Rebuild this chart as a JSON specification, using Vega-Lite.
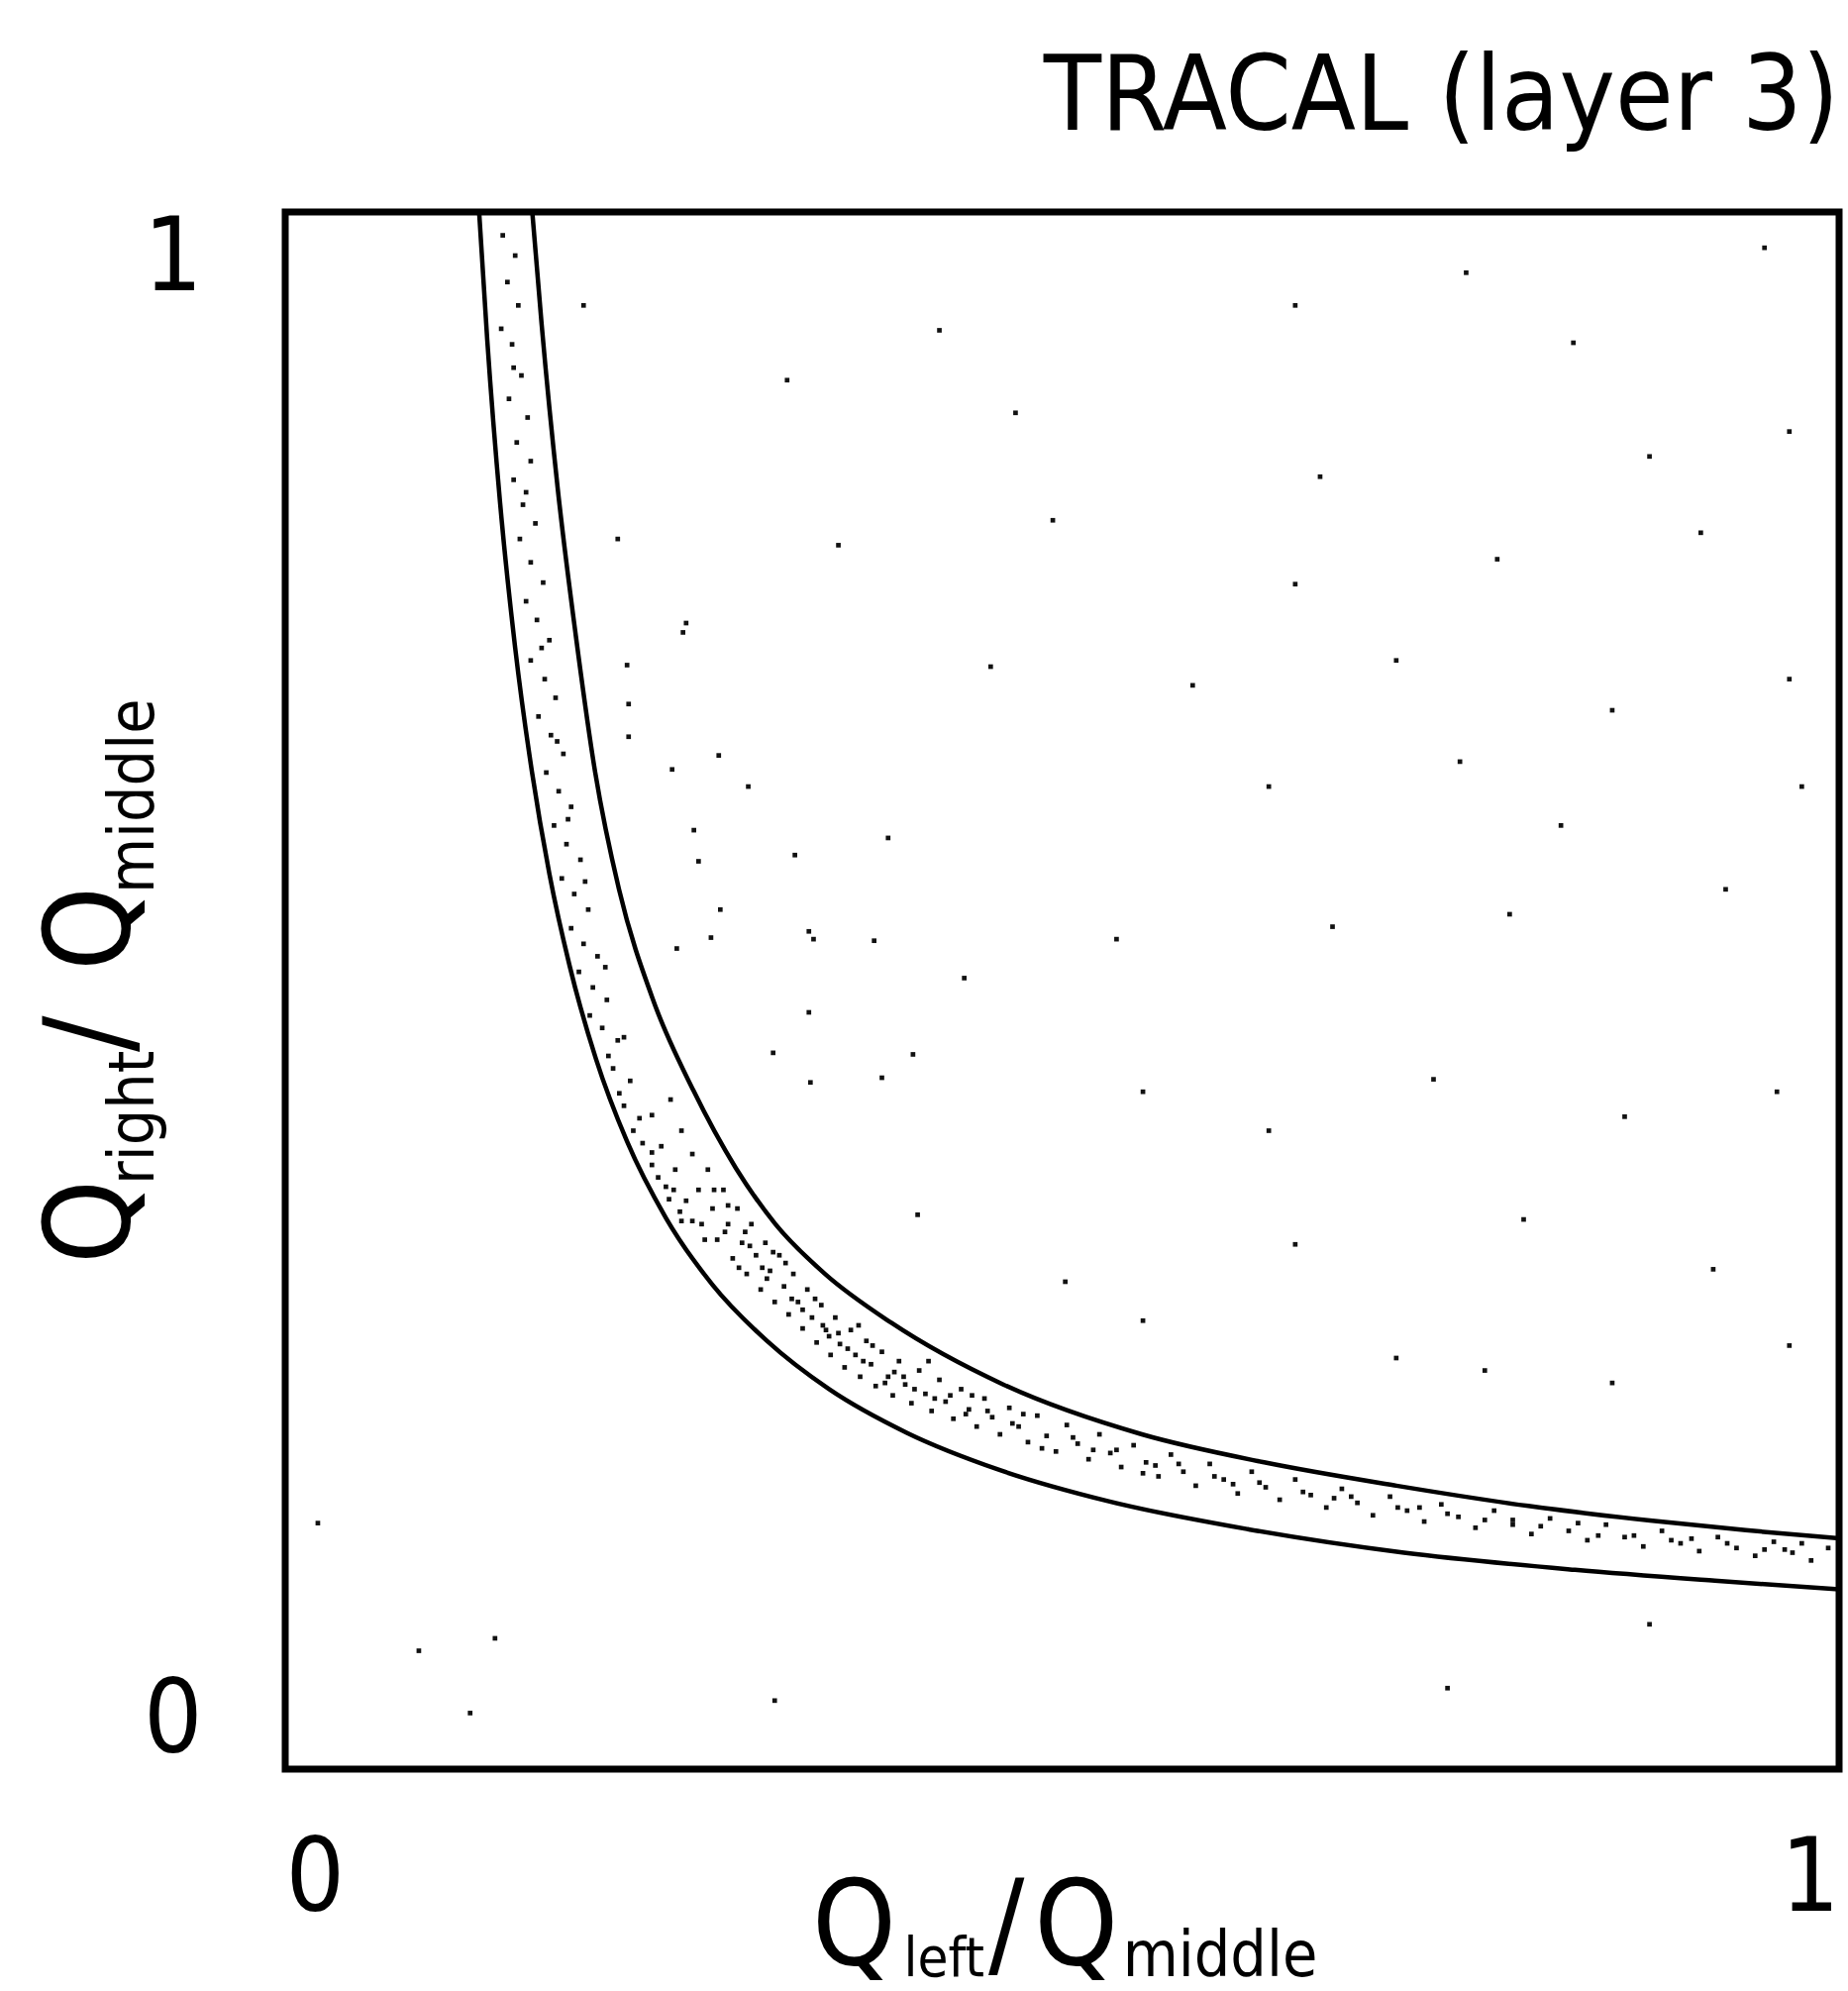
{
  "$schema": "https://vega.github.io/schema/vega-lite/v6.json",
  "width": 1569,
  "height": 1572,
  "autosize": "none",
  "padding": {"left": 288, "top": 214, "right": 9, "bottom": 224},
  "background": "white",
  "config": {
    "view": {"stroke": "black", "strokeWidth": 7}
  },
  "title": {
    "text": "TRACAL (layer 3)",
    "anchor": "end",
    "frame": "group",
    "fontSize": 106,
    "fontWeight": "normal",
    "font": "DejaVu Sans Condensed",
    "color": "black",
    "offset": 52
  },
  "datasets": {
    "curves": [
      {"curve": "upper", "x": 0.159, "y": 1.0},
      {"curve": "upper", "x": 0.165, "y": 0.928},
      {"curve": "upper", "x": 0.1753, "y": 0.823},
      {"curve": "upper", "x": 0.187, "y": 0.728},
      {"curve": "upper", "x": 0.1995, "y": 0.640},
      {"curve": "upper", "x": 0.2148, "y": 0.565},
      {"curve": "upper", "x": 0.2371, "y": 0.493},
      {"curve": "upper", "x": 0.2626, "y": 0.436},
      {"curve": "upper", "x": 0.29, "y": 0.386},
      {"curve": "upper", "x": 0.3155, "y": 0.350},
      {"curve": "upper", "x": 0.3474, "y": 0.318},
      {"curve": "upper", "x": 0.3901, "y": 0.2866},
      {"curve": "upper", "x": 0.4621, "y": 0.247},
      {"curve": "upper", "x": 0.5513, "y": 0.215},
      {"curve": "upper", "x": 0.63, "y": 0.197},
      {"curve": "upper", "x": 0.7151, "y": 0.182},
      {"curve": "upper", "x": 0.8, "y": 0.169},
      {"curve": "upper", "x": 0.8783, "y": 0.1596},
      {"curve": "upper", "x": 0.94, "y": 0.1534},
      {"curve": "upper", "x": 1.0, "y": 0.1482},
      {"curve": "lower", "x": 0.1248, "y": 1.0},
      {"curve": "lower", "x": 0.13, "y": 0.918},
      {"curve": "lower", "x": 0.1383, "y": 0.813},
      {"curve": "lower", "x": 0.148, "y": 0.720},
      {"curve": "lower", "x": 0.1587, "y": 0.641},
      {"curve": "lower", "x": 0.17, "y": 0.575},
      {"curve": "lower", "x": 0.183, "y": 0.516},
      {"curve": "lower", "x": 0.2, "y": 0.456},
      {"curve": "lower", "x": 0.22, "y": 0.403},
      {"curve": "lower", "x": 0.245, "y": 0.354},
      {"curve": "lower", "x": 0.275, "y": 0.311},
      {"curve": "lower", "x": 0.31, "y": 0.275},
      {"curve": "lower", "x": 0.35, "y": 0.244},
      {"curve": "lower", "x": 0.4, "y": 0.216},
      {"curve": "lower", "x": 0.46, "y": 0.192},
      {"curve": "lower", "x": 0.53, "y": 0.172},
      {"curve": "lower", "x": 0.62, "y": 0.154},
      {"curve": "lower", "x": 0.72, "y": 0.139},
      {"curve": "lower", "x": 0.83, "y": 0.128},
      {"curve": "lower", "x": 0.92, "y": 0.121},
      {"curve": "lower", "x": 1.0, "y": 0.1154}
    ],
    "dots": [
      {"x": 0.140, "y": 0.985}, {"x": 0.148, "y": 0.972}, {"x": 0.143, "y": 0.955}, {"x": 0.150, "y": 0.940},
      {"x": 0.139, "y": 0.925}, {"x": 0.146, "y": 0.915}, {"x": 0.152, "y": 0.895}, {"x": 0.144, "y": 0.880},
      {"x": 0.156, "y": 0.868}, {"x": 0.149, "y": 0.852}, {"x": 0.158, "y": 0.840}, {"x": 0.147, "y": 0.828},
      {"x": 0.153, "y": 0.812}, {"x": 0.161, "y": 0.800}, {"x": 0.151, "y": 0.790}, {"x": 0.158, "y": 0.775},
      {"x": 0.166, "y": 0.762}, {"x": 0.155, "y": 0.750}, {"x": 0.162, "y": 0.738}, {"x": 0.170, "y": 0.725},
      {"x": 0.158, "y": 0.712}, {"x": 0.167, "y": 0.700}, {"x": 0.174, "y": 0.688}, {"x": 0.163, "y": 0.676},
      {"x": 0.171, "y": 0.664}, {"x": 0.179, "y": 0.652}, {"x": 0.168, "y": 0.640}, {"x": 0.176, "y": 0.628},
      {"x": 0.184, "y": 0.618}, {"x": 0.173, "y": 0.606}, {"x": 0.181, "y": 0.594}, {"x": 0.190, "y": 0.584},
      {"x": 0.178, "y": 0.572}, {"x": 0.186, "y": 0.562}, {"x": 0.195, "y": 0.552}, {"x": 0.184, "y": 0.540},
      {"x": 0.192, "y": 0.530}, {"x": 0.201, "y": 0.522}, {"x": 0.189, "y": 0.512}, {"x": 0.198, "y": 0.502},
      {"x": 0.207, "y": 0.494}, {"x": 0.196, "y": 0.484}, {"x": 0.204, "y": 0.476}, {"x": 0.214, "y": 0.468},
      {"x": 0.208, "y": 0.458}, {"x": 0.211, "y": 0.450}, {"x": 0.222, "y": 0.442}, {"x": 0.215, "y": 0.434},
      {"x": 0.218, "y": 0.426}, {"x": 0.228, "y": 0.418}, {"x": 0.224, "y": 0.410}, {"x": 0.230, "y": 0.402},
      {"x": 0.236, "y": 0.396}, {"x": 0.236, "y": 0.388}, {"x": 0.240, "y": 0.380}, {"x": 0.245, "y": 0.374},
      {"x": 0.247, "y": 0.366}, {"x": 0.254, "y": 0.358}, {"x": 0.255, "y": 0.352},
      {"x": 0.147, "y": 0.900}, {"x": 0.155, "y": 0.820}, {"x": 0.165, "y": 0.720}, {"x": 0.175, "y": 0.660},
      {"x": 0.182, "y": 0.610}, {"x": 0.193, "y": 0.570}, {"x": 0.206, "y": 0.515}, {"x": 0.218, "y": 0.470},
      {"x": 0.236, "y": 0.420},
      {"x": 0.242, "y": 0.400}, {"x": 0.248, "y": 0.430}, {"x": 0.251, "y": 0.385}, {"x": 0.255, "y": 0.410},
      {"x": 0.258, "y": 0.365}, {"x": 0.262, "y": 0.395}, {"x": 0.266, "y": 0.372}, {"x": 0.268, "y": 0.350},
      {"x": 0.272, "y": 0.385}, {"x": 0.275, "y": 0.360}, {"x": 0.278, "y": 0.340}, {"x": 0.282, "y": 0.372},
      {"x": 0.285, "y": 0.350}, {"x": 0.288, "y": 0.328}, {"x": 0.291, "y": 0.360}, {"x": 0.294, "y": 0.338},
      {"x": 0.297, "y": 0.318}, {"x": 0.300, "y": 0.350}, {"x": 0.303, "y": 0.330}, {"x": 0.306, "y": 0.308},
      {"x": 0.309, "y": 0.338}, {"x": 0.312, "y": 0.320}, {"x": 0.315, "y": 0.300}, {"x": 0.318, "y": 0.330},
      {"x": 0.321, "y": 0.310}, {"x": 0.324, "y": 0.292}, {"x": 0.327, "y": 0.318}, {"x": 0.330, "y": 0.300},
      {"x": 0.333, "y": 0.283}, {"x": 0.336, "y": 0.308}, {"x": 0.339, "y": 0.290}, {"x": 0.342, "y": 0.274},
      {"x": 0.345, "y": 0.298}, {"x": 0.348, "y": 0.282}, {"x": 0.351, "y": 0.266}, {"x": 0.354, "y": 0.290},
      {"x": 0.357, "y": 0.273}, {"x": 0.360, "y": 0.258}, {"x": 0.364, "y": 0.282}, {"x": 0.367, "y": 0.266},
      {"x": 0.370, "y": 0.252}, {"x": 0.374, "y": 0.275}, {"x": 0.377, "y": 0.260}, {"x": 0.380, "y": 0.246},
      {"x": 0.384, "y": 0.268}, {"x": 0.388, "y": 0.252}, {"x": 0.391, "y": 0.240}, {"x": 0.395, "y": 0.262},
      {"x": 0.399, "y": 0.247}, {"x": 0.403, "y": 0.235}, {"x": 0.408, "y": 0.256}, {"x": 0.412, "y": 0.241},
      {"x": 0.416, "y": 0.230}, {"x": 0.421, "y": 0.250}, {"x": 0.425, "y": 0.236}, {"x": 0.430, "y": 0.225},
      {"x": 0.435, "y": 0.244}, {"x": 0.440, "y": 0.231}, {"x": 0.445, "y": 0.220}, {"x": 0.450, "y": 0.238},
      {"x": 0.455, "y": 0.226}, {"x": 0.460, "y": 0.215}, {"x": 0.466, "y": 0.232}, {"x": 0.472, "y": 0.220},
      {"x": 0.478, "y": 0.210}, {"x": 0.484, "y": 0.227}, {"x": 0.490, "y": 0.214}, {"x": 0.496, "y": 0.204},
      {"x": 0.503, "y": 0.221}, {"x": 0.510, "y": 0.209}, {"x": 0.517, "y": 0.199}, {"x": 0.524, "y": 0.215},
      {"x": 0.531, "y": 0.203}, {"x": 0.538, "y": 0.194}, {"x": 0.546, "y": 0.208}, {"x": 0.554, "y": 0.197},
      {"x": 0.562, "y": 0.188}, {"x": 0.570, "y": 0.202}, {"x": 0.578, "y": 0.191}, {"x": 0.586, "y": 0.182},
      {"x": 0.595, "y": 0.196}, {"x": 0.604, "y": 0.186}, {"x": 0.613, "y": 0.177}, {"x": 0.622, "y": 0.191},
      {"x": 0.631, "y": 0.181}, {"x": 0.640, "y": 0.173}, {"x": 0.650, "y": 0.186}, {"x": 0.660, "y": 0.176},
      {"x": 0.670, "y": 0.168}, {"x": 0.680, "y": 0.180}, {"x": 0.690, "y": 0.171}, {"x": 0.700, "y": 0.163},
      {"x": 0.711, "y": 0.175}, {"x": 0.722, "y": 0.166}, {"x": 0.733, "y": 0.159}, {"x": 0.744, "y": 0.170},
      {"x": 0.755, "y": 0.162}, {"x": 0.766, "y": 0.155}, {"x": 0.778, "y": 0.166}, {"x": 0.790, "y": 0.157},
      {"x": 0.802, "y": 0.151}, {"x": 0.814, "y": 0.161}, {"x": 0.826, "y": 0.153}, {"x": 0.838, "y": 0.147},
      {"x": 0.850, "y": 0.157}, {"x": 0.862, "y": 0.149}, {"x": 0.874, "y": 0.143}, {"x": 0.886, "y": 0.153},
      {"x": 0.898, "y": 0.145}, {"x": 0.910, "y": 0.140}, {"x": 0.922, "y": 0.149}, {"x": 0.934, "y": 0.142},
      {"x": 0.946, "y": 0.137}, {"x": 0.958, "y": 0.146}, {"x": 0.970, "y": 0.139}, {"x": 0.982, "y": 0.134},
      {"x": 0.993, "y": 0.142},
      {"x": 0.285, "y": 0.362}, {"x": 0.296, "y": 0.345}, {"x": 0.310, "y": 0.315}, {"x": 0.322, "y": 0.325},
      {"x": 0.333, "y": 0.295}, {"x": 0.346, "y": 0.285}, {"x": 0.356, "y": 0.280}, {"x": 0.372, "y": 0.262},
      {"x": 0.392, "y": 0.255}, {"x": 0.418, "y": 0.238}, {"x": 0.442, "y": 0.240}, {"x": 0.468, "y": 0.222},
      {"x": 0.520, "y": 0.205}, {"x": 0.560, "y": 0.195}, {"x": 0.610, "y": 0.183}, {"x": 0.675, "y": 0.174},
      {"x": 0.730, "y": 0.168}, {"x": 0.790, "y": 0.160}, {"x": 0.845, "y": 0.150}, {"x": 0.905, "y": 0.148},
      {"x": 0.965, "y": 0.141},
      {"x": 0.250, "y": 0.372}, {"x": 0.262, "y": 0.352}, {"x": 0.270, "y": 0.340}, {"x": 0.276, "y": 0.372},
      {"x": 0.283, "y": 0.345}, {"x": 0.292, "y": 0.322}, {"x": 0.299, "y": 0.336}, {"x": 0.307, "y": 0.322},
      {"x": 0.314, "y": 0.332}, {"x": 0.326, "y": 0.302}, {"x": 0.341, "y": 0.302}, {"x": 0.350, "y": 0.278},
      {"x": 0.362, "y": 0.270}, {"x": 0.369, "y": 0.285}, {"x": 0.378, "y": 0.272}, {"x": 0.386, "y": 0.248},
      {"x": 0.398, "y": 0.252}, {"x": 0.405, "y": 0.244}, {"x": 0.414, "y": 0.262}, {"x": 0.428, "y": 0.240},
      {"x": 0.438, "y": 0.228}, {"x": 0.452, "y": 0.230}, {"x": 0.475, "y": 0.228}, {"x": 0.487, "y": 0.206},
      {"x": 0.507, "y": 0.213}, {"x": 0.535, "y": 0.205}, {"x": 0.552, "y": 0.190}, {"x": 0.575, "y": 0.196},
      {"x": 0.598, "y": 0.188}, {"x": 0.627, "y": 0.184}, {"x": 0.655, "y": 0.178}, {"x": 0.686, "y": 0.175},
      {"x": 0.716, "y": 0.168}, {"x": 0.748, "y": 0.164}, {"x": 0.772, "y": 0.160}, {"x": 0.808, "y": 0.156},
      {"x": 0.832, "y": 0.158}, {"x": 0.868, "y": 0.150}, {"x": 0.892, "y": 0.147}, {"x": 0.928, "y": 0.145},
      {"x": 0.952, "y": 0.141}, {"x": 0.976, "y": 0.145},
      {"x": 0.192, "y": 0.940}, {"x": 0.421, "y": 0.924}, {"x": 0.650, "y": 0.940}, {"x": 0.760, "y": 0.961},
      {"x": 0.829, "y": 0.916}, {"x": 0.952, "y": 0.977}, {"x": 0.323, "y": 0.892}, {"x": 0.470, "y": 0.871},
      {"x": 0.666, "y": 0.830}, {"x": 0.878, "y": 0.843}, {"x": 0.968, "y": 0.859}, {"x": 0.356, "y": 0.786},
      {"x": 0.494, "y": 0.802}, {"x": 0.650, "y": 0.761}, {"x": 0.780, "y": 0.777}, {"x": 0.911, "y": 0.794},
      {"x": 0.258, "y": 0.736}, {"x": 0.454, "y": 0.708}, {"x": 0.584, "y": 0.696}, {"x": 0.715, "y": 0.712},
      {"x": 0.854, "y": 0.680}, {"x": 0.968, "y": 0.700}, {"x": 0.298, "y": 0.631}, {"x": 0.388, "y": 0.598},
      {"x": 0.633, "y": 0.631}, {"x": 0.756, "y": 0.647}, {"x": 0.821, "y": 0.606}, {"x": 0.976, "y": 0.631},
      {"x": 0.340, "y": 0.533}, {"x": 0.437, "y": 0.508}, {"x": 0.535, "y": 0.533}, {"x": 0.674, "y": 0.541},
      {"x": 0.788, "y": 0.549}, {"x": 0.927, "y": 0.565}, {"x": 0.552, "y": 0.435}, {"x": 0.633, "y": 0.410},
      {"x": 0.739, "y": 0.443}, {"x": 0.862, "y": 0.419}, {"x": 0.960, "y": 0.435}, {"x": 0.404, "y": 0.459},
      {"x": 0.502, "y": 0.313}, {"x": 0.650, "y": 0.337}, {"x": 0.797, "y": 0.353}, {"x": 0.919, "y": 0.321},
      {"x": 0.552, "y": 0.288}, {"x": 0.715, "y": 0.264}, {"x": 0.854, "y": 0.248}, {"x": 0.968, "y": 0.272},
      {"x": 0.772, "y": 0.256}, {"x": 0.086, "y": 0.076}, {"x": 0.135, "y": 0.084}, {"x": 0.119, "y": 0.036},
      {"x": 0.315, "y": 0.044}, {"x": 0.748, "y": 0.052}, {"x": 0.878, "y": 0.093}, {"x": 0.021, "y": 0.158},
      {"x": 0.214, "y": 0.790}, {"x": 0.256, "y": 0.730}, {"x": 0.220, "y": 0.709}, {"x": 0.221, "y": 0.684},
      {"x": 0.221, "y": 0.663}, {"x": 0.279, "y": 0.651}, {"x": 0.249, "y": 0.642}, {"x": 0.263, "y": 0.603},
      {"x": 0.266, "y": 0.583}, {"x": 0.328, "y": 0.587}, {"x": 0.280, "y": 0.552}, {"x": 0.274, "y": 0.534},
      {"x": 0.252, "y": 0.527}, {"x": 0.337, "y": 0.486}, {"x": 0.314, "y": 0.460}, {"x": 0.338, "y": 0.441},
      {"x": 0.384, "y": 0.444}, {"x": 0.407, "y": 0.356}, {"x": 0.337, "y": 0.538}, {"x": 0.379, "y": 0.532}
    ]
  },
  "layer": [
    {
      "data": {"name": "dots"},
      "mark": {"type": "square", "size": 22, "color": "#111", "opacity": 1},
      "encoding": {
        "x": {"field": "x", "type": "quantitative", "scale": {"domain": [0, 1], "nice": false, "zero": false},
          "axis": {"values": [0, 1], "format": "d", "title": null, "domain": false, "ticks": false, "grid": false,
            "labelFontSize": 104, "labelColor": "black", "labelPadding": 60, "labelFlush": true,
            "labelFont": "DejaVu Sans Condensed"}},
        "y": {"field": "y", "type": "quantitative", "scale": {"domain": [0, 1], "nice": false, "zero": false},
          "axis": {"values": [0, 1], "format": "d", "title": null, "domain": false, "ticks": false, "grid": false,
            "labelFontSize": 104, "labelColor": "black", "labelPadding": 84, "labelFlush": true, "labelFlushOffset": 4,
            "labelFont": "DejaVu Sans Condensed"}}
      }
    },
    {
      "data": {"name": "curves"},
      "mark": {"type": "line", "color": "black", "strokeWidth": 4.5, "interpolate": "monotone"},
      "encoding": {
        "x": {"field": "x", "type": "quantitative"},
        "y": {"field": "y", "type": "quantitative"},
        "detail": {"field": "curve"}
      }
    },
    {
      "data": {"values": [{"label": "Q"}]},
      "mark": {"type": "text", "font": "DejaVu Sans Condensed", "fontSize": 120, "align": "left", "baseline": "alphabetic", "color": "black"},
      "encoding": {"text": {"field": "label"}, "x": {"datum": 0.339, "type": "quantitative"}, "y": {"datum": -0.125, "type": "quantitative"}}
    },
    {
      "data": {"values": [{"label": "left"}]},
      "mark": {"type": "text", "font": "DejaVu Sans Condensed", "fontSize": 56, "align": "left", "baseline": "alphabetic", "color": "black"},
      "encoding": {"text": {"field": "label"}, "x": {"datum": 0.398, "type": "quantitative"}, "y": {"datum": -0.133, "type": "quantitative"}}
    },
    {
      "data": {"values": [{"label": "/"}]},
      "mark": {"type": "text", "font": "DejaVu Sans Condensed", "fontSize": 120, "align": "left", "baseline": "alphabetic", "color": "black"},
      "encoding": {"text": {"field": "label"}, "x": {"datum": 0.4525, "type": "quantitative"}, "y": {"datum": -0.125, "type": "quantitative"}}
    },
    {
      "data": {"values": [{"label": "Q"}]},
      "mark": {"type": "text", "font": "DejaVu Sans Condensed", "fontSize": 120, "align": "left", "baseline": "alphabetic", "color": "black"},
      "encoding": {"text": {"field": "label"}, "x": {"datum": 0.482, "type": "quantitative"}, "y": {"datum": -0.125, "type": "quantitative"}}
    },
    {
      "data": {"values": [{"label": "middle"}]},
      "mark": {"type": "text", "font": "DejaVu Sans Condensed", "fontSize": 64, "align": "left", "baseline": "alphabetic", "color": "black"},
      "encoding": {"text": {"field": "label"}, "x": {"datum": 0.539, "type": "quantitative"}, "y": {"datum": -0.133, "type": "quantitative"}}
    },
    {
      "data": {"values": [{"label": "Q"}]},
      "mark": {"type": "text", "font": "DejaVu Sans Condensed", "fontSize": 120, "angle": 270, "align": "left", "baseline": "alphabetic", "color": "black"},
      "encoding": {"text": {"field": "label"}, "x": {"datum": -0.1007, "type": "quantitative"}, "y": {"datum": 0.3244, "type": "quantitative"}}
    },
    {
      "data": {"values": [{"label": "right"}]},
      "mark": {"type": "text", "font": "DejaVu Sans Condensed", "fontSize": 64, "angle": 270, "align": "left", "baseline": "alphabetic", "color": "black"},
      "encoding": {"text": {"field": "label"}, "x": {"datum": -0.0848, "type": "quantitative"}, "y": {"datum": 0.3753, "type": "quantitative"}}
    },
    {
      "data": {"values": [{"label": "/"}]},
      "mark": {"type": "text", "font": "DejaVu Sans Condensed", "fontSize": 120, "angle": 270, "align": "left", "baseline": "alphabetic", "color": "black"},
      "encoding": {"text": {"field": "label"}, "x": {"datum": -0.1007, "type": "quantitative"}, "y": {"datum": 0.4606, "type": "quantitative"}}
    },
    {
      "data": {"values": [{"label": "Q"}]},
      "mark": {"type": "text", "font": "DejaVu Sans Condensed", "fontSize": 120, "angle": 270, "align": "left", "baseline": "alphabetic", "color": "black"},
      "encoding": {"text": {"field": "label"}, "x": {"datum": -0.1007, "type": "quantitative"}, "y": {"datum": 0.5127, "type": "quantitative"}}
    },
    {
      "data": {"values": [{"label": "middle"}]},
      "mark": {"type": "text", "font": "DejaVu Sans Condensed", "fontSize": 64, "angle": 270, "align": "left", "baseline": "alphabetic", "color": "black"},
      "encoding": {"text": {"field": "label"}, "x": {"datum": -0.0848, "type": "quantitative"}, "y": {"datum": 0.5623, "type": "quantitative"}}
    }
  ]
}
